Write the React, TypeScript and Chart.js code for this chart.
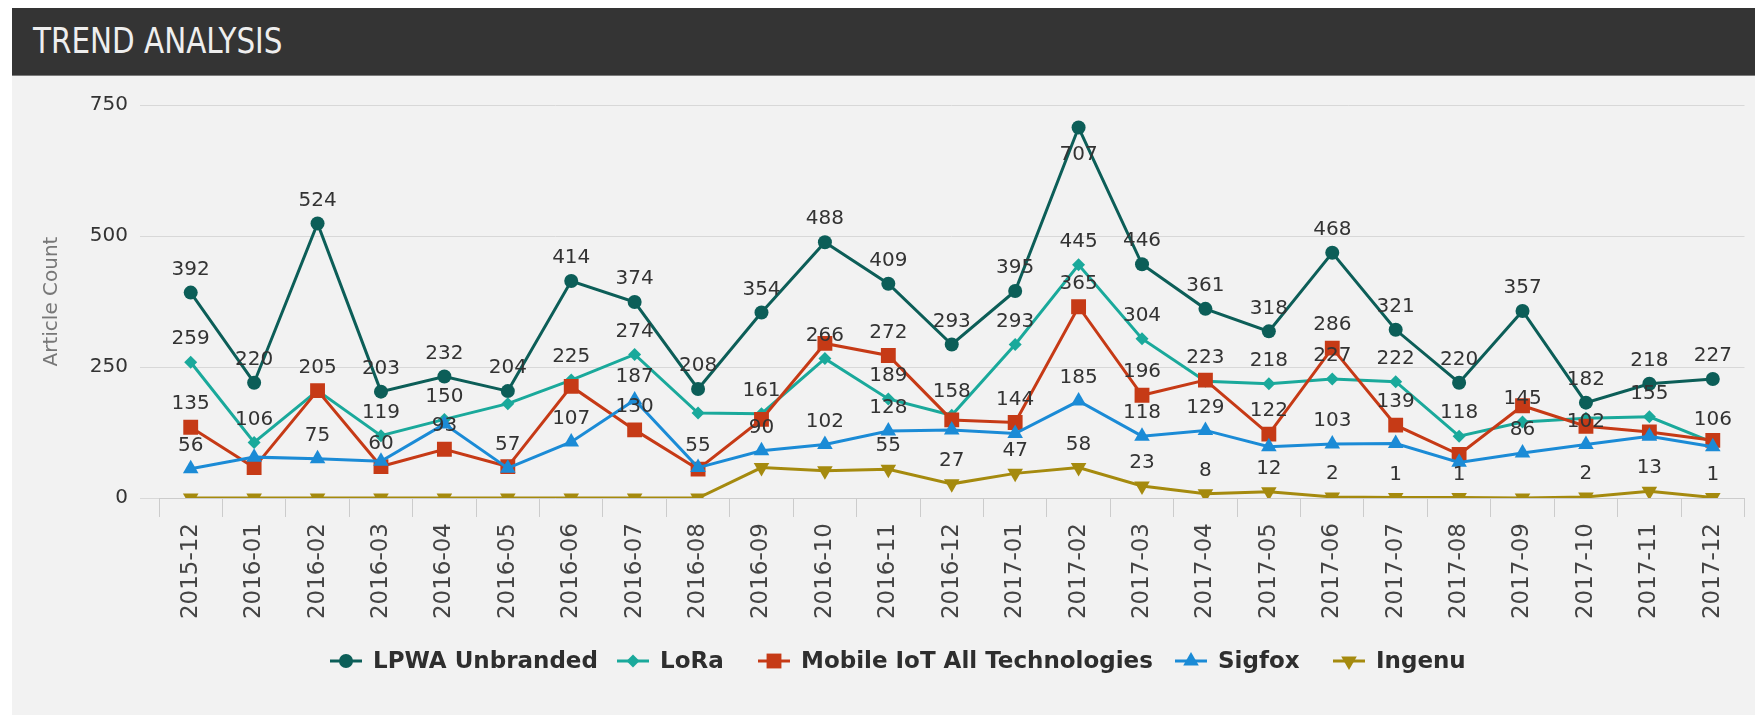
import React, { useEffect, useRef } from 'react';
import { Chart, registerables } from 'chart.js';
import { drawPoint } from 'chart.js/helpers';

Chart.register(...registerables);

const categories = [
  '2015-12', '2016-01', '2016-02', '2016-03', '2016-04', '2016-05', '2016-06', '2016-07', '2016-08',
  '2016-09', '2016-10', '2016-11', '2016-12', '2017-01', '2017-02', '2017-03', '2017-04', '2017-05',
  '2017-06', '2017-07', '2017-08', '2017-09', '2017-10', '2017-11', '2017-12',
];

const lpwaUnbranded = [392, 220, 524, 203, 232, 204, 414, 374, 208, 354, 488, 409, 293, 395, 707, 446, 361, 318, 468, 321, 220, 357, 182, 218, 227];
const lora = [259, 106, 205, 119, 150, 180, 225, 274, 162, 161, 266, 189, 158, 293, 445, 304, 223, 218, 227, 222, 118, 145, 152, 155, 106];
const mobileIot = [135, 58, 205, 60, 93, 60, 213, 130, 55, 150, 295, 272, 149, 144, 365, 196, 225, 122, 286, 139, 83, 176, 137, 126, 110];
const sigfox = [56, 78, 75, 70, 141, 57, 107, 187, 58, 90, 102, 128, 130, 123, 185, 118, 129, 98, 103, 104, 68, 86, 102, 118, 98];
const ingenu = [0, 0, 0, 0, 0, 0, 0, 0, 0, 58, 52, 55, 27, 47, 58, 23, 8, 12, 2, 1, 1, 0, 2, 13, 1];

const yTickValues = [0, 250, 500, 750];

// indices of categories whose value label is hidden (overlapping labels in the original)
const lpwaHiddenLabels: number[] = [];
const loraHiddenLabels = [5, 8, 22];
const mobileHiddenLabels = [1, 2, 5, 6, 9, 10, 12, 16, 20, 21, 22, 23, 24];
const sigfoxHiddenLabels = [1, 3, 4, 8, 12, 13, 17, 19, 20, 23, 24];
const ingenuHiddenLabels = [9, 10];

const seriesNames = ['LPWA Unbranded', 'LoRa', 'Mobile IoT All Technologies', 'Sigfox', 'Ingenu'];

const FONT = "'DejaVu Sans', Verdana, sans-serif";

export default function App() {
  const canvasRef = useRef<HTMLCanvasElement | null>(null);

  useEffect(() => {
    const canvas = canvasRef.current;
    if (!canvas) return;

    const series = [
      { label: seriesNames[0], data: lpwaUnbranded, hidden: lpwaHiddenLabels, color: '#0c5e58', pointStyle: 'circle', radius: 7, rotation: 0 },
      { label: seriesNames[1], data: lora, hidden: loraHiddenLabels, color: '#1aa99b', pointStyle: 'rectRot', radius: 6.5, rotation: 0 },
      { label: seriesNames[2], data: mobileIot, hidden: mobileHiddenLabels, color: '#c63a16', pointStyle: 'rect', radius: 10.5, rotation: 0 },
      { label: seriesNames[3], data: sigfox, hidden: sigfoxHiddenLabels, color: '#1b8bd6', pointStyle: 'triangle', radius: 9, rotation: 0 },
      { label: seriesNames[4], data: ingenu, hidden: ingenuHiddenLabels, color: '#a58a0e', pointStyle: 'triangle', radius: 9, rotation: 180 },
    ];

    const labelPlugin = {
      id: 'valueLabels',
      afterDatasetsDraw(chart: any) {
        const ctx = chart.ctx;
        const top = chart.chartArea.top;
        ctx.save();
        ctx.font = `20px ${FONT}`;
        ctx.textAlign = 'center';
        ctx.textBaseline = 'middle';
        ctx.fillStyle = '#333333';
        series.forEach((s, i) => {
          const meta = chart.getDatasetMeta(i);
          meta.data.forEach((pt: any, j: number) => {
            const v = s.data[j];
            if (v === 0 || s.hidden.includes(j)) return;
            let ly = pt.y - 23;
            if (ly - 12 < top) ly = pt.y + 27;
            ctx.fillText(String(v), pt.x, ly);
          });
        });
        ctx.restore();
      },
    };

    const legendStarts = [318, 605, 746, 1163, 1321];
    const legendPlugin = {
      id: 'customLegend',
      afterDraw(chart: any) {
        const ctx = chart.ctx;
        const y = 585;
        ctx.save();
        series.forEach((s, i) => {
          const x0 = legendStarts[i];
          ctx.strokeStyle = s.color;
          ctx.lineWidth = 3;
          ctx.beginPath();
          ctx.moveTo(x0, y);
          ctx.lineTo(x0 + 32, y);
          ctx.stroke();
          ctx.fillStyle = s.color;
          drawPoint(ctx, { pointStyle: s.pointStyle, radius: s.radius, rotation: s.rotation, borderWidth: 0 } as any, x0 + 16, y);
          ctx.fillStyle = '#2e2e2e';
          ctx.font = `bold 23px ${FONT}`;
          ctx.textAlign = 'left';
          ctx.textBaseline = 'middle';
          ctx.fillText(s.label, x0 + 43, y + 1);
        });
        ctx.restore();
      },
    };

    const chart = new Chart(canvas, {
      type: 'line',
      data: {
        labels: categories,
        datasets: series.map((s, i) => ({
          label: s.label,
          data: s.data,
          borderColor: s.color,
          backgroundColor: s.color,
          borderWidth: 3,
          tension: 0,
          fill: false,
          pointStyle: s.pointStyle as any,
          pointRadius: s.radius,
          pointHoverRadius: s.radius,
          pointRotation: s.rotation,
          pointBorderWidth: 0,
          pointBackgroundColor: s.color,
          order: series.length - 1 - i,
        })),
      },
      options: {
        animation: false,
        responsive: false,
        maintainAspectRatio: false,
        events: [],
        layout: { padding: { top: 29, right: 1, left: 0, bottom: 0 } },
        plugins: {
          legend: { display: false },
          tooltip: { enabled: false },
        },
        scales: {
          x: {
            type: 'category',
            offset: true,
            grid: {
              offset: true,
              drawOnChartArea: false,
              drawTicks: true,
              tickLength: 19,
              color: '#cccccc',
            },
            border: { display: true, color: '#cccccc' },
            ticks: {
              autoSkip: false,
              minRotation: 90,
              maxRotation: 90,
              padding: 6,
              color: '#444444',
              font: { family: FONT, size: 23 },
            },
            afterFit: (scale: any) => {
              scale.height = 217;
            },
          },
          y: {
            min: 0,
            max: 750,
            afterBuildTicks: (scale: any) => {
              scale.ticks = yTickValues.map((v) => ({ value: v }));
            },
            grid: { color: '#d8d8d8', drawTicks: true, tickLength: 19 },
            border: { display: false },
            ticks: {
              padding: 12,
              color: '#333333',
              font: { family: FONT, size: 20 },
            },
            title: {
              display: true,
              text: 'Article Count',
              color: '#777777',
              font: { family: FONT, size: 20 },
              padding: { top: 28, bottom: 0 },
            },
            afterFit: (scale: any) => {
              scale.width = 147;
            },
          },
        },
      },
      plugins: [labelPlugin, legendPlugin],
    });

    return () => chart.destroy();
  }, []);

  return (
    <div style={{ position: 'fixed', left: 0, top: 0, width: 1755, height: 715, background: '#ffffff', overflow: 'hidden' }}>
      <div
        style={{
          position: 'absolute', left: 12, top: 8, width: 1743, height: 67, background: '#343434',
          borderBottom: '1px solid #7a7a7a', display: 'flex', alignItems: 'center',
        }}
      >
        <span
          style={{
            marginLeft: 21, color: '#eeeeee', fontSize: 35, lineHeight: 1,
            fontFamily: "'DejaVu Sans Condensed', 'Liberation Sans Narrow', sans-serif",
            display: 'inline-block', transform: 'scaleX(0.935)', transformOrigin: 'left center',
            whiteSpace: 'nowrap',
          }}
        >
          TREND ANALYSIS
        </span>
      </div>
      <div style={{ position: 'absolute', left: 12, top: 76, width: 1743, height: 639, background: '#f2f2f2' }}>
        <canvas ref={canvasRef} width={1743} height={639} style={{ display: 'block', width: 1743, height: 639 }} />
      </div>
    </div>
  );
}
